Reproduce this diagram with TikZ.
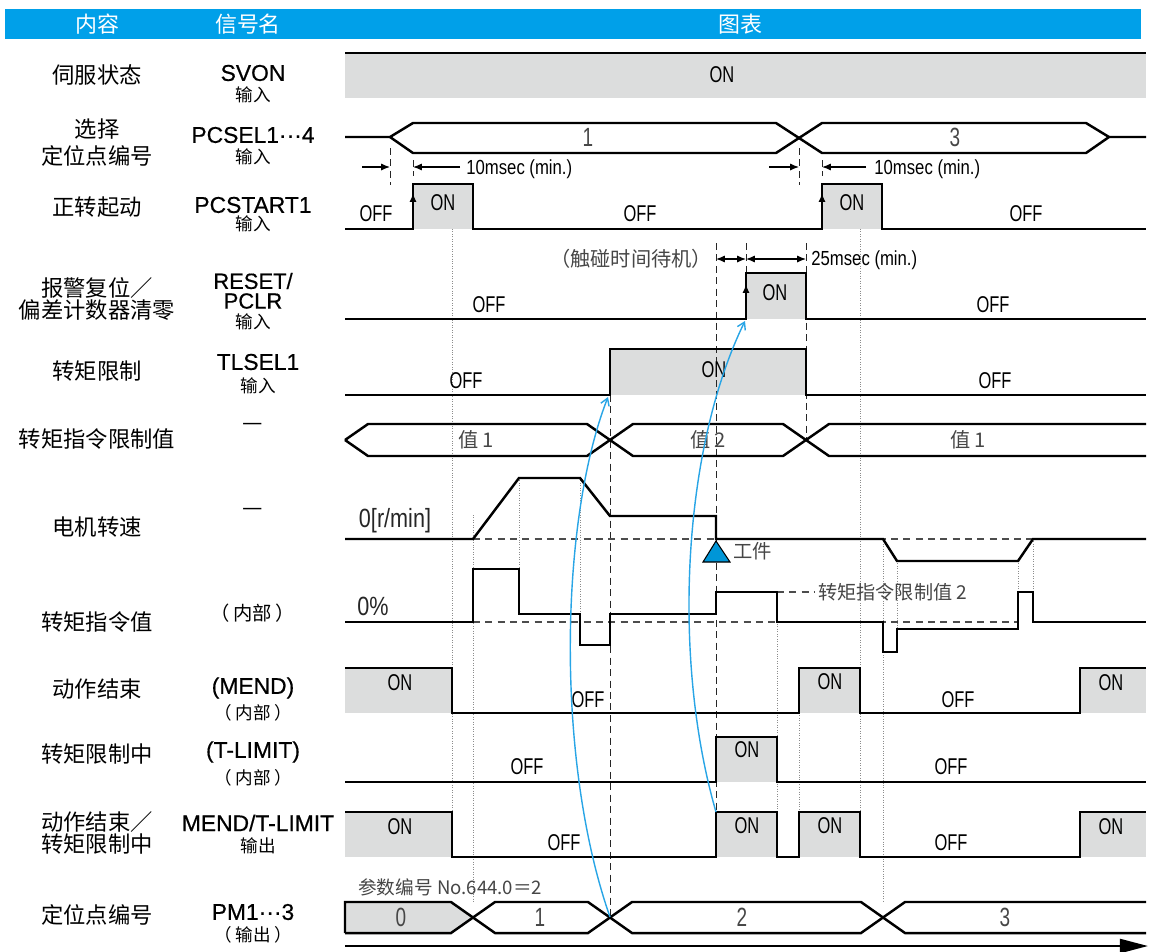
\documentclass[tikz,border=0pt]{standalone}
\usepackage{fontspec}
\setmainfont{Liberation Sans}
\newfontfamily\cjk{Noto Sans CJK SC}
\newfontfamily\narrowsf[FakeStretch=0.82]{Liberation Sans}
\newfontfamily\condsf[FakeStretch=0.72]{Liberation Sans}
\newfontfamily\sigsf[FakeBold=0.5]{Liberation Sans}
\usetikzlibrary{arrows.meta,positioning}
\definecolor{hdrblue}{RGB}{0,160,233}
\definecolor{sigfill}{RGB}{220,221,221}
\definecolor{txtgray}{RGB}{70,70,70}
\definecolor{cueblue}{RGB}{40,165,230}
\definecolor{wpblue}{RGB}{0,150,215}

\begin{document}
\begin{tikzpicture}[x=0.02cm,y=-0.02cm,
  wave/.style={line width=1.4pt},
  onbox/.style={fill=sigfill},
  guide/.style={line width=0.55pt,dash pattern=on 4pt off 2.5pt,black!85},
  hairline/.style={line width=0.4pt,densely dotted,black!45},
  zeroline/.style={line width=0.6pt,dash pattern=on 4pt off 3pt,black!70},
  rowlbl/.style={font=\cjk\fontsize{12.7}{#1}\selectfont,align=center,inner sep=0pt},
  rowlbl/.default=12,
  signame/.style={font=\sigsf\fontsize{13}{13}\selectfont,align=center,inner sep=0pt},
  iotag/.style={font=\cjk\fontsize{10}{10}\selectfont,inner sep=0pt},
  onoff/.style={font=\condsf\fontsize{13}{13}\selectfont,inner sep=0pt},
  busval/.style={font=\condsf\fontsize{15}{15}\selectfont,text=txtgray,inner sep=0pt},
  cjkval/.style={font=\cjk\fontsize{11.5}{12}\selectfont,text=txtgray,inner sep=0pt},
  note/.style={font=\cjk\fontsize{11}{12}\selectfont,text=txtgray,inner sep=0pt},
  dimtxt/.style={font=\narrowsf\fontsize{11.6}{12}\selectfont,inner sep=0pt},
  zerotxt/.style={font=\narrowsf\fontsize{15}{15}\selectfont,text=black!85,inner sep=0pt},
  dimarrow/.style={line width=0.7pt,-{Latex[length=5pt,width=4pt]}},
  dimboth/.style={line width=0.7pt,{Latex[length=5pt,width=4pt]}-{Latex[length=5pt,width=4pt]}},
  cue/.style={cueblue,line width=0.8pt,-{Straight Barb[length=4pt,width=5pt]}},
  hdr/.style={font=\cjk\fontsize{12.5}{13}\selectfont,text=white,inner sep=0pt}]
\fill[white] (0,0) rectangle (1152,951);
\useasboundingbox (0,0) rectangle (1152,951);

\fill[hdrblue] (5,9) rectangle (1141,39);
\node[hdr] (hcontent) at (97,24) {内容};
\node[hdr] (hsignal) at (248,24) {信号名};
\node[hdr] (hchart) at (740,24) {图表};

\node[rowlbl] (lsvon) at (97,75) {伺服状态};
\node[rowlbl=15.4] (lpcsel) at (97,143) {选择\\定位点编号};
\node[rowlbl] (lstart) at (97,207) {正转起动};
\node[rowlbl] (lreset) at (97,299) {报警复位／\\偏差计数器清零};
\node[rowlbl] (ltlsel) at (97,371) {转矩限制};
\node[rowlbl] (ltlval) at (97,439) {转矩指令限制值};
\node[rowlbl] (lspeed) at (97,527) {电机转速};
\node[rowlbl] (ltorque) at (97,622) {转矩指令值};
\node[rowlbl] (lmend) at (97,689) {动作结束};
\node[rowlbl] (ltlim) at (97,754) {转矩限制中};
\node[rowlbl=11.5] (lout) at (97,833) {动作结束／\\转矩限制中};
\node[rowlbl] (lpm) at (97,915) {定位点编号};

\node[signame] (ssvon) at (253,73) {SVON};
\node[iotag] (isvon) at (253,95) {输入};
\node[signame] (spcsel) at (253,135) {PCSEL1···4};
\node[iotag] (ipcsel) at (253,157) {输入};
\node[signame] (sstart) at (253,205) {PCSTART1};
\node[iotag] (istart) at (253,224) {输入};
\node[signame,font=\sigsf\fontsize{12.5}{13}\selectfont] (sreset) at (253,281) {RESET/};
\node[signame,font=\sigsf\fontsize{12.5}{13}\selectfont] (spclr) at (253,301) {PCLR};
\node[iotag] (ireset) at (253,322) {输入};
\node[signame] (stlsel) at (258,362) {TLSEL1};
\node[iotag] (itlsel) at (258,386) {输入};
\node[signame,font=\cjk\fontsize{13}{13}\selectfont] (stlval) at (253,427) {—};
\node[signame,font=\cjk\fontsize{13}{13}\selectfont] (sspeed) at (253,512) {—};
\node[iotag,font=\cjk\fontsize{11}{11}\selectfont] (storque) at (253,613) {（\hspace{2pt}内部\hspace{2pt}）};
\node[signame] (smend) at (253,688) {(MEND)};
\node[iotag] (imend) at (253,713) {（\hspace{2pt}内部\hspace{2pt}）};
\node[signame] (stlim) at (253,752) {(T-LIMIT)};
\node[iotag] (itlim) at (253,778) {（\hspace{2pt}内部\hspace{2pt}）};
\node[signame] (sout) at (258,823) {MEND/T-LIMIT};
\node[iotag] (iout) at (258,846) {输出};
\node[signame] (spm) at (253,912) {PM1···3};
\node[iotag] (ipm) at (253,935) {（\hspace{2pt}输出\hspace{2pt}）};

\fill[onbox] (345,53) rectangle (1146,98);
\fill[onbox] (413,184) rectangle (473,229);
\fill[onbox] (822,184) rectangle (882,229);
\fill[onbox] (746,273) rectangle (806,319);
\fill[onbox] (610,349) rectangle (806,395);
\fill[onbox] (345,668) rectangle (452,713);
\fill[onbox] (799,668) rectangle (860,713);
\fill[onbox] (1080,668) rectangle (1146,713);
\fill[onbox] (716,737) rectangle (777,782);
\fill[onbox] (345,812) rectangle (452,857);
\fill[onbox] (716,812) rectangle (777,857);
\fill[onbox] (799,812) rectangle (860,857);
\fill[onbox] (1080,812) rectangle (1146,857);
\fill[onbox] (345,902) -- (451,902) -- (473,917) -- (451,933) -- (345,933) -- cycle;

\foreach \x/\ya/\yb in {452/229/812, 473/515/902, 519/478/614, 580/478/645, 777/592/812,
  799/713/812, 860/229/812, 883/539/902, 897/561/652, 1018/561/592, 1033/539/622}
  \draw[hairline] (\x,\ya) -- (\x,\yb);
\foreach \x/\ya/\yb in {390/148/185, 413/160/176, 799/148/185, 822/160/176,
  716/243/812, 746/243/273, 806/243/440, 610/395/917}
  \draw[guide] (\x,\ya) -- (\x,\yb);
\draw[zeroline] (473,539) -- (1146,539);
\draw[zeroline] (473,622) -- (1018,622);
\draw[zeroline] (777,592) -- (815,592);

\draw[wave] (345,53) -- (1146,53);
\draw[wave] (345,137) -- (390,137) -- (413,123) -- (776,123) -- (822,153) -- (1086,153) -- (1109,137) -- (1146,137);
\draw[wave] (390,137) -- (413,153) -- (776,153) -- (822,123) -- (1086,123) -- (1109,137);
\draw[wave] (345,229) -- (413,229) -- (413,184) -- (473,184) -- (473,229) -- (822,229) -- (822,184) -- (882,184) -- (882,229) -- (1146,229);
\draw[wave] (345,319) -- (746,319) -- (746,273) -- (806,273) -- (806,319) -- (1146,319);
\draw[wave] (345,395) -- (610,395) -- (610,349) -- (806,349) -- (806,395) -- (1146,395);
\draw[wave] (345,440) -- (368,424) -- (587,424) -- (633,456) -- (783,456) -- (829,424) -- (1146,424);
\draw[wave] (345,440) -- (368,456) -- (587,456) -- (633,424) -- (783,424) -- (829,456) -- (1146,456);
\draw[wave] (345,539) -- (473,539) -- (519,478) -- (580,478) -- (610,516) -- (716,516) -- (716,539) -- (883,539) -- (897,561) -- (1018,561) -- (1033,539) -- (1146,539);
\draw[wave] (345,622) -- (473,622) -- (473,569) -- (519,569) -- (519,614) -- (580,614) -- (580,645) -- (610,645) -- (610,614) -- (716,614) -- (716,592) -- (777,592) -- (777,622) -- (883,622) -- (883,652) -- (897,652) -- (897,629) -- (1018,629) -- (1018,592) -- (1033,592) -- (1033,622) -- (1146,622);
\draw[wave] (345,668) -- (452,668) -- (452,713) -- (799,713) -- (799,668) -- (860,668) -- (860,713) -- (1080,713) -- (1080,668) -- (1146,668);
\draw[wave] (345,782) -- (716,782) -- (716,737) -- (777,737) -- (777,782) -- (1146,782);
\draw[wave] (345,812) -- (452,812) -- (452,857) -- (716,857) -- (716,812) -- (777,812) -- (777,857) -- (799,857) -- (799,812) -- (860,812) -- (860,857) -- (1080,857) -- (1080,812) -- (1146,812);
\draw[wave] (345,933) -- (345,902) -- (451,902) -- (495,933) -- (588,933) -- (632,902) -- (861,902) -- (905,933) -- (1146,933);
\draw[wave] (345,933) -- (451,933) -- (495,902) -- (588,902) -- (632,933) -- (861,933) -- (905,902) -- (1146,902);
\draw[wave,-{Latex[length=5pt,width=4pt]}] (413,229) -- (413,193);
\draw[wave,-{Latex[length=5pt,width=4pt]}] (822,229) -- (822,193);
\draw[wave,-{Latex[length=5pt,width=4pt]}] (746,319) -- (746,284);
\draw[fill=wpblue,line width=0.6pt] (716,541) -- (703,562) -- (730,562) -- cycle;

\node[onoff] (svon) at (722,75) {ON};
\node[busval] (pcsel1) at (588,137) {1};
\node[busval] (pcsel3) at (955,137) {3};
\node[onoff] (stoff1) at (376,214) {OFF};
\node[onoff] (ston1) at (443,203) {ON};
\node[onoff] (stoff2) at (640,214) {OFF};
\node[onoff] (ston2) at (852,203) {ON};
\node[onoff] (stoff3) at (1026,214) {OFF};
\node[onoff] (rsoff1) at (489,305) {OFF};
\node[onoff] (rson) at (775,293) {ON};
\node[onoff] (rsoff2) at (993,305) {OFF};
\node[onoff] (tloff1) at (466,381) {OFF};
\node[onoff] (tlon) at (714,370) {ON};
\node[onoff] (tloff2) at (995,381) {OFF};
\node[cjkval] (val1a) at (476,440) {值 1};
\node[cjkval] (val2) at (708,440) {值 2};
\node[cjkval] (val1b) at (968,440) {值 1};
\node[zerotxt] (rpm) at (395,521) {0[r/min]};
\node[zerotxt] (pct) at (373,606) {0\%};
\node[note,anchor=west] (work) at (733,551) {工件};
\node[note,anchor=west,font=\cjk\fontsize{10.9}{11}\selectfont] (lim2) at (818,592) {转矩指令限制值 2};
\node[onoff] (mdon1) at (400,683) {ON};
\node[onoff] (mdoff1) at (588,700) {OFF};
\node[onoff] (mdon2) at (830,682) {ON};
\node[onoff] (mdoff2) at (958,700) {OFF};
\node[onoff] (mdon3) at (1111,683) {ON};
\node[onoff] (tmoff1) at (527,767) {OFF};
\node[onoff] (tmon) at (747,750) {ON};
\node[onoff] (tmoff2) at (951,767) {OFF};
\node[onoff] (ouon1) at (400,827) {ON};
\node[onoff] (ouoff1) at (564,843) {OFF};
\node[onoff] (ouon2) at (747,826) {ON};
\node[onoff] (ouon3) at (830,826) {ON};
\node[onoff] (ouoff2) at (951,843) {OFF};
\node[onoff] (ouon4) at (1111,827) {ON};
\node[note,anchor=west,font=\cjk\fontsize{10.6}{11}\selectfont] (param) at (358,887) {参数编号 No.644.0＝2};
\node[busval] (pm0) at (401,917) {0};
\node[busval] (pm1) at (540,917) {1};
\node[busval] (pm2) at (742,917) {2};
\node[busval] (pm3) at (1005,917) {3};

\coordinate (selA) at (390,167);
\coordinate (stA) at (413,167);
\coordinate (selB) at (799,167);
\coordinate (stB) at (822,167);
\draw[dimarrow] (362,167) -- (selA);
\draw[dimarrow] (460,167) -- (stA);
\node[dimtxt,anchor=west] (ms10a) at (466,169) {10msec (min.)};
\draw[dimarrow] (769,167) -- (selB);
\draw[dimarrow] (866,167) -- (stB);
\node[dimtxt,anchor=west] (ms10b) at (874,169) {10msec (min.)};

\coordinate (touch) at (716,259);
\coordinate (rsrise) at (746,259);
\coordinate (rsfall) at (806,259);
\draw[dimboth] (touch) -- (rsrise);
\draw[dimboth] (rsrise) -- (rsfall);
\node[note,font=\cjk\fontsize{11.5}{12}\selectfont] (wait) at (631,259) {（触碰时间待机）};
\node[dimtxt,anchor=west] (ms25) at (811,260) {25msec (min.)};

\coordinate (pmcross) at (610,917);
\coordinate (tlrise) at (608,397);
\coordinate (outrise) at (716,812);
\coordinate (rsedge) at (745,321);
\draw[cue] (pmcross) .. controls (555,760) and (560,520) .. (tlrise);
\draw[cue] (outrise) .. controls (672,660) and (682,450) .. (rsedge);

\draw[line width=1.3pt,-{Triangle[length=16pt,width=8pt]}] (345,946) -- (1148,946);
\end{tikzpicture}
\end{document}
